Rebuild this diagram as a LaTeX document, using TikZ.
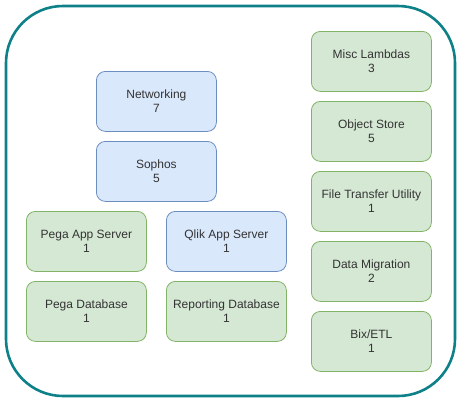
\documentclass[tikz,border=0pt]{standalone}
\usepackage{fontspec}
\setmainfont{Liberation Sans}
\definecolor{blueF}{HTML}{DAE8FC}
\definecolor{blueD}{HTML}{6C8EBF}
\definecolor{greenF}{HTML}{D5E8D4}
\definecolor{greenD}{HTML}{82B366}
\definecolor{tealD}{HTML}{0E8088}
\definecolor{txt}{HTML}{333333}
\begin{document}
\begin{tikzpicture}[x=1pt,y=-1pt,
  card/.style={rounded corners=9pt, line width=0.8pt, minimum width=120pt, minimum height=60pt,
    inner sep=0pt, align=center, font=\fontsize{12pt}{14pt}\selectfont, text=txt, anchor=north west},
  bluecard/.style={card, draw=blueD, fill=blueF},
  greencard/.style={card, draw=greenD, fill=greenF}]
\useasboundingbox (0,0) rectangle (463,410);
\draw[tealD, line width=2.6pt, rounded corners=57pt] (6,6) rectangle (455,396);
\node[bluecard] (net) at (96,71) {Networking\\7};
\node[bluecard] (sophos) at (96,141) {Sophos\\5};
\node[greencard] (pegaapp) at (26,211) {Pega App Server\\1};
\node[bluecard] (qlik) at (166,211) {Qlik App Server\\1};
\node[greencard] (pegadb) at (26,281) {Pega Database\\1};
\node[greencard] (repdb) at (166,281) {Reporting Database\\1};
\node[greencard] (misc) at (311,31) {Misc Lambdas\\3};
\node[greencard] (obj) at (311,101) {Object Store\\5};
\node[greencard] (ftu) at (311,171) {File Transfer Utility\\1};
\node[greencard] (dm) at (311,241) {Data Migration\\2};
\node[greencard] (bix) at (311,311) {Bix/ETL\\1};
\end{tikzpicture}
\end{document}
